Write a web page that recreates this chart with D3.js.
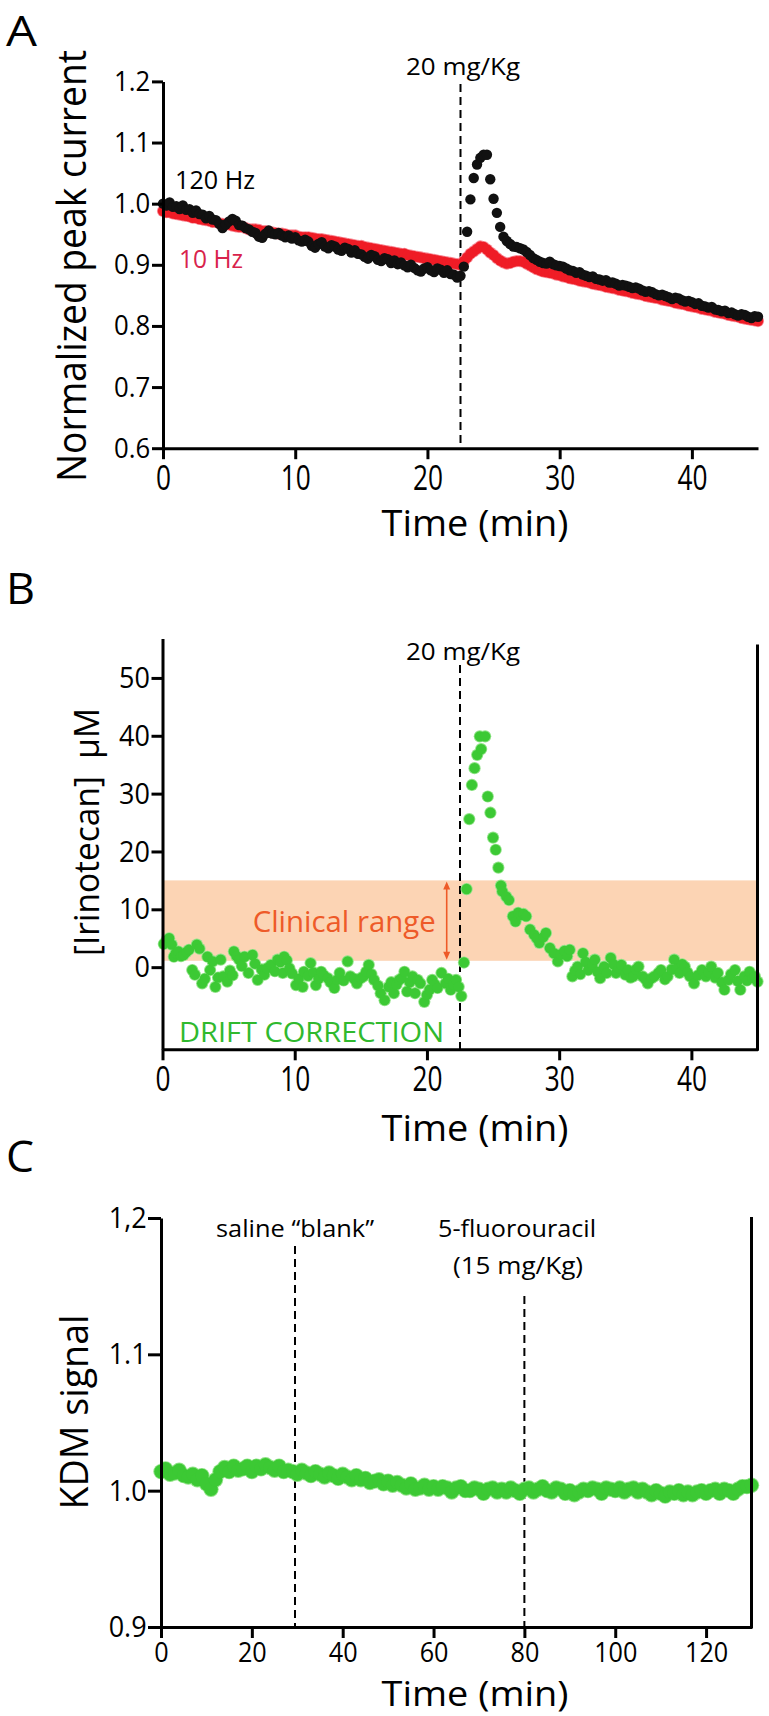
<!DOCTYPE html>
<html><head><meta charset="utf-8">
<script src="https://cdn.jsdelivr.net/npm/d3@7"></script>
<style>
html,body{margin:0;padding:0;background:#fff;}
svg{display:block;font-family:"Open Sans",sans-serif;}
</style></head>
<body><svg id="fig" width="769" height="1716"></svg>
<script>
// ---------- DATA ----------
// Panel A: normalized peak current, sampled every 0.25 min from 0 to 45 min
const stepA = 0.25;
const hz120 = [
1.000,0.997,1.002,0.995, 0.996,0.991,0.997,0.990, 0.991,0.985,0.989,0.983, 0.982,0.976,0.980,0.974,
0.973,0.967,0.960,0.966, 0.971,0.975,0.972,0.965, 0.964,0.960,0.958,0.954, 0.952,0.946,0.944,0.951,
0.956,0.951,0.950,0.952, 0.948,0.945,0.948,0.943, 0.945,0.940,0.938,0.941, 0.938,0.931,0.928,0.934,
0.937,0.930,0.927,0.932, 0.930,0.925,0.923,0.928, 0.926,0.920,0.924,0.918, 0.917,0.913,0.910,0.916,
0.914,0.908,0.906,0.911, 0.909,0.903,0.907,0.901, 0.904,0.899,0.896,0.900, 0.895,0.891,0.889,0.894,
0.896,0.891,0.888,0.894, 0.892,0.887,0.891,0.885, 0.884,0.879,0.882,0.897, 0.954,1.007,1.042,1.064,
1.075,1.080,1.080,1.040, 1.008,0.985,0.962,0.946, 0.939,0.934,0.930,0.929, 0.927,0.925,0.921,0.916,
0.911,0.908,0.905,0.903, 0.902,0.905,0.901,0.899, 0.898,0.897,0.894,0.891, 0.890,0.887,0.888,0.884,
0.882,0.880,0.881,0.877, 0.876,0.874,0.875,0.871, 0.871,0.869,0.866,0.867, 0.866,0.864,0.862,0.863,
0.861,0.858,0.856,0.857, 0.855,0.852,0.850,0.851, 0.849,0.847,0.844,0.846, 0.845,0.842,0.840,0.841,
0.839,0.836,0.837,0.833, 0.832,0.830,0.831,0.827, 0.826,0.824,0.825,0.821, 0.822,0.819,0.817,0.819,
0.818,0.815,0.813,0.816, 0.815];
const hz10 = [
0.988,0.986,0.986,0.984, 0.983,0.982,0.981,0.980, 0.979,0.977,0.977,0.975, 0.974,0.973,0.972,0.970,
0.970,0.968,0.967,0.966, 0.966,0.964,0.963,0.962, 0.962,0.960,0.958,0.958, 0.958,0.957,0.955,0.955,
0.954,0.953,0.952,0.951, 0.951,0.950,0.948,0.948, 0.948,0.946,0.945,0.945, 0.945,0.944,0.943,0.942,
0.942,0.941,0.940,0.939, 0.938,0.937,0.936,0.935, 0.934,0.933,0.932,0.931, 0.931,0.929,0.928,0.927,
0.926,0.925,0.924,0.923, 0.922,0.921,0.920,0.919, 0.918,0.918,0.916,0.915, 0.914,0.913,0.912,0.911,
0.910,0.909,0.908,0.907, 0.906,0.905,0.904,0.903, 0.902,0.901,0.900,0.906, 0.912,0.918,0.922,0.926,
0.930,0.929,0.925,0.920, 0.916,0.911,0.907,0.904, 0.902,0.903,0.905,0.906, 0.906,0.905,0.902,0.899,
0.896,0.893,0.891,0.889, 0.888,0.887,0.886,0.884, 0.883,0.881,0.880,0.878, 0.877,0.876,0.874,0.873,
0.872,0.871,0.869,0.868, 0.867,0.866,0.864,0.863, 0.862,0.861,0.859,0.858, 0.857,0.856,0.854,0.853,
0.852,0.851,0.849,0.848, 0.847,0.846,0.845,0.843, 0.842,0.841,0.840,0.838, 0.837,0.836,0.835,0.833,
0.832,0.831,0.830,0.828, 0.827,0.826,0.825,0.823, 0.822,0.821,0.820,0.818, 0.817,0.816,0.815,0.813,
0.812,0.811,0.810,0.809, 0.808];
const doseTime = 22.5;
const ticksAY = [0.6,0.7,0.8,0.9,1.0,1.1,1.2];
const ticksX45 = [0,10,20,30,40];

// Panel B: [time (min), irinotecan (µM)]
const irinotecan = [[0.1,4.0],[0.3,4.6],[0.5,5.0],[0.7,3.9],[0.86,1.8],[1.0,2.4],[1.2,2.7],[1.4,1.9],[1.6,2.1],[1.8,2.6],[2.0,3.0],[2.25,-0.5],[2.45,-1.3],[2.6,3.9],[2.8,3.2],[3.0,-2.8],[3.2,-2.0],[3.4,1.8],[3.6,-0.5],[3.8,1.0],[4.0,-3.4],[4.2,-1.8],[4.4,1.3],[4.6,-1.6],[4.9,-2.5],[5.1,-0.6],[5.3,-1.4],[5.4,2.7],[5.6,1.9],[5.8,1.3],[6.0,0.2],[6.2,1.8],[6.5,-1.0],[6.8,2.1],[7.0,0.6],[7.2,-2.2],[7.5,-0.4],[7.7,-1.3],[7.9,-0.2],[8.2,0.4],[8.5,-0.7],[8.7,1.3],[8.9,0.9],[9.1,-1.0],[9.2,1.8],[9.4,1.2],[9.6,-0.2],[9.8,-1.1],[10.1,-3.1],[10.3,-2.0],[10.6,-3.4],[10.7,-0.8],[11.0,-1.5],[11.2,0.7],[11.4,-0.9],[11.6,-3.1],[11.8,-2.0],[12.0,-0.8],[12.2,-1.4],[12.5,-1.9],[12.7,-2.6],[13.0,-3.6],[13.2,-2.2],[13.4,-1.0],[13.7,-2.3],[14.0,1.0],[14.2,-1.6],[14.5,-2.0],[14.7,-2.8],[15.0,-1.9],[15.2,-1.6],[15.4,-0.8],[15.6,0.4],[15.8,-1.2],[16.0,-2.2],[16.3,-3.2],[16.5,-4.5],[16.8,-5.7],[17.1,-3.4],[17.3,-2.6],[17.5,-4.5],[17.7,-3.0],[17.9,-2.2],[18.1,-1.9],[18.3,-0.8],[18.5,-4.2],[18.7,-2.6],[18.9,-1.6],[19.1,-4.5],[19.3,-2.2],[19.5,-2.8],[19.8,-6.0],[20.0,-4.8],[20.2,-3.9],[20.4,-2.2],[20.6,-3.0],[20.8,-3.6],[21.1,-1.0],[21.4,-2.8],[21.6,-2.0],[21.8,-3.9],[22.0,-3.0],[22.2,-2.2],[22.4,-3.4],[22.6,-5.0],[22.8,0.8],[23.0,13.5],[23.2,25.6],[23.4,31.5],[23.6,34.4],[23.8,36.7],[24.0,39.9],[24.1,37.7],[24.4,39.9],[24.6,29.5],[24.8,26.7],[25.0,22.4],[25.2,20.3],[25.4,17.2],[25.6,14.1],[25.7,13.1],[26.0,12.2],[26.2,11.6],[26.5,8.8],[26.7,7.9],[26.9,9.4],[27.1,9.0],[27.3,9.2],[27.5,8.8],[27.8,6.5],[28.1,5.6],[28.3,5.0],[28.5,4.2],[28.8,5.2],[29.0,5.9],[29.3,3.3],[29.6,2.4],[29.9,1.0],[30.1,2.2],[30.4,2.8],[30.6,1.9],[30.8,3.0],[31.0,-1.6],[31.2,-0.6],[31.4,0.1],[31.6,-1.2],[31.8,2.4],[32.0,0.9],[32.2,-0.5],[32.5,0.4],[32.7,1.3],[32.9,-0.8],[33.1,-1.9],[33.4,0.1],[33.6,-1.0],[33.9,1.6],[34.1,0.5],[34.3,-1.0],[34.5,-0.2],[34.7,0.4],[35.0,-1.3],[35.2,-0.5],[35.4,-1.8],[35.6,-1.6],[35.8,-0.4],[36.0,0.1],[36.3,-1.6],[36.5,-2.0],[36.7,-2.8],[37.0,-1.9],[37.2,-1.6],[37.5,-1.0],[37.7,-0.5],[38.0,-2.1],[38.2,-1.6],[38.5,-0.4],[38.7,1.3],[38.9,-0.2],[39.1,-1.0],[39.3,0.5],[39.5,0.1],[39.7,-0.9],[39.9,-1.6],[40.2,-2.8],[40.5,-1.4],[40.8,-0.5],[41.1,-1.6],[41.3,-0.9],[41.5,0.1],[41.8,-1.8],[42.0,-1.0],[42.3,-2.6],[42.5,-3.9],[42.8,-2.2],[43.0,-1.2],[43.3,-0.5],[43.5,-2.4],[43.7,-3.9],[44.0,-1.6],[44.2,-2.3],[44.4,-0.8],[44.6,-1.9],[44.8,-1.6],[45.0,-2.5]];
const clinicalRange = [1.1, 15];
const ticksBY = [0,10,20,30,40,50];

// Panel C: KDM signal every 1 min from 0 to 130 min
const stepC = 1;
const kdm = [
1.014,1.016,1.012,1.013,1.015,1.011,1.010,1.012,1.008,1.011,1.005,1.001,1.008,1.014,1.017,1.014,1.018,1.015,1.016,1.018,
1.014,1.018,1.016,1.019,1.017,1.015,1.018,1.014,1.015,1.014,1.012,1.015,1.013,1.011,1.014,1.012,1.010,1.013,1.011,1.009,
1.012,1.010,1.008,1.011,1.008,1.009,1.006,1.007,1.008,1.005,1.007,1.004,1.006,1.004,1.002,1.005,1.001,1.002,1.004,1.001,
1.003,1.001,1.003,1.002,0.999,1.002,1.003,1.000,1.000,1.002,1.001,0.998,1.001,1.002,0.999,1.001,0.999,1.002,1.000,0.998,
1.001,1.002,0.999,1.001,1.003,1.000,0.999,1.002,1.001,0.998,1.000,0.997,0.999,1.001,1.000,1.002,1.001,0.998,1.002,1.001,
1.000,1.002,0.999,1.001,1.002,0.999,1.001,0.999,0.997,1.000,0.998,0.996,0.999,0.998,1.000,0.997,0.999,0.997,0.999,1.000,
0.998,1.000,1.001,0.998,1.001,1.000,0.998,1.001,1.003,1.003,1.004];
const salineTime = 29.5, fuTime = 80;
const ticksCY = [0.9,1.0,1.1,1.2];
const ticksCX = [0,20,40,60,80,100,120];

// ---------- DRAWING ----------
const svg = d3.select("#fig");
svg.append("rect").attr("width",769).attr("height",1716).attr("fill","#fff");
const FONT = "'Open Sans', sans-serif";
const RED = "#ef1c26", REDEDGE = "#f78a96", REDTXT = "#d8234c";
const GREEN = "#3cc934", GREENEDGE = "#8fe386", GREENTXT = "#30b92e", ORANGE = "#ee5a28";

function styleAxis(g, fs, sx){
  g.select(".domain").attr("stroke","#000").attr("stroke-width",3);
  g.selectAll(".tick line").attr("stroke","#000").attr("stroke-width",3);
  g.selectAll(".tick text").attr("fill","#000").attr("font-size",fs).attr("font-family",FONT);
  if (sx) g.selectAll(".tick text").attr("transform",`scale(${sx},1)`);
}
function dashed(x, y1, y2){
  svg.append("line").attr("x1",x).attr("x2",x).attr("y1",y1).attr("y2",y2)
    .attr("stroke","#000").attr("stroke-width",2).attr("stroke-dasharray","8,5");
}
function label(txt, x, y, fs, opts={}){
  const t = svg.append("text").attr("x",x).attr("y",y).attr("font-size",fs)
    .attr("font-family",FONT).attr("fill",opts.fill||"#000")
    .attr("text-anchor",opts.anchor||"start").text(txt);
  if (opts.len) t.attr("textLength",opts.len).attr("lengthAdjust","spacingAndGlyphs");
  return t;
}
function vlabel(txt, x, y, fs, len){
  svg.append("text").attr("transform",`translate(${x},${y}) rotate(-90)`)
    .attr("text-anchor","middle").attr("font-size",fs).attr("font-family",FONT)
    .attr("textLength",len).attr("lengthAdjust","spacingAndGlyphs").text(txt);
}
// dots drawn in two passes: a soft outer rim, then the solid fill
function dots(data, cx, cy, r, fill, edge){
  const g = svg.append("g");
  if (edge) g.append("g").selectAll("circle").data(data).join("circle")
    .attr("cx",cx).attr("cy",cy).attr("r",r+0.9).attr("fill",edge);
  g.append("g").selectAll("circle").data(data).join("circle")
    .attr("cx",cx).attr("cy",cy).attr("r",r).attr("fill",fill);
}

// ===== Panel A =====
const xA = d3.scaleLinear().domain([0,45]).range([163,758]);
const yA = d3.scaleLinear().domain([0.6,1.2]).range([448.2,81.4]);
label("A", 6, 46, 42, {len:31});
dashed(xA(doseTime), 84, yA(0.6));
dots(hz10, (d,i)=>xA(i*stepA), d=>yA(d), 5.2, RED, REDEDGE);
dots(hz120, (d,i)=>xA(i*stepA), d=>yA(d), 5.2, "#111", null);
const gAx = svg.append("g").attr("transform",`translate(0,${yA(0.6)})`)
  .call(d3.axisBottom(xA).tickValues(ticksX45).tickSize(11).tickSizeOuter(0).tickPadding(6).tickFormat(d3.format("d")));
styleAxis(gAx, 35, 0.75);
const gAy = svg.append("g").attr("transform",`translate(${xA(0)},0)`)
  .call(d3.axisLeft(yA).tickValues(ticksAY).tickSize(11).tickSizeOuter(0).tickPadding(3).tickFormat(d3.format(".1f")));
styleAxis(gAy, 28, 0.92);
label("20 mg/Kg", 406, 75, 24, {len:114});
label("120 Hz", 175, 189, 25, {len:80});
label("10 Hz", 179, 268, 25, {len:64, fill:REDTXT});
vlabel("Normalized peak current", 86, 266, 40, 432);
label("Time (min)", 475, 536, 37, {anchor:"middle", len:187});

// ===== Panel B =====
const xB = d3.scaleLinear().domain([0,45]).range([162.5,757.5]);
const yB = d3.scaleLinear().domain([-14.2,56.8]).range([1049.3,638.6]);
label("B", 6, 604, 43, {len:29});
svg.append("rect").attr("x",xB(0)).attr("width",xB(45)-xB(0))
  .attr("y",yB(clinicalRange[1])).attr("height",yB(clinicalRange[0])-yB(clinicalRange[1]))
  .attr("fill","#fcd4b4");
// double-headed arrow marking the clinical range
const ax = 446.7, ay1 = yB(clinicalRange[1])+1, ay2 = yB(clinicalRange[0])-1;
svg.append("line").attr("x1",ax).attr("x2",ax).attr("y1",ay1+5).attr("y2",ay2-5).attr("stroke",ORANGE).attr("stroke-width",1.6);
svg.append("path").attr("d",`M${ax},${ay1} l-3.5,8 l7,0 Z M${ax},${ay2} l-3.5,-8 l7,0 Z`).attr("fill",ORANGE);
label("Clinical range", 252.7, 931.7, 30, {len:183, fill:ORANGE});
label("DRIFT CORRECTION", 179, 1041.7, 28, {len:265, fill:GREENTXT});
dashed(xB(doseTime), 665, yB(-14.2));
dots(irinotecan, d=>xB(d[0]), d=>yB(d[1]), 5.2, GREEN, GREENEDGE);
const gBx = svg.append("g").attr("transform",`translate(0,${yB(-14.2)})`)
  .call(d3.axisBottom(xB).tickValues(ticksX45).tickSize(11).tickSizeOuter(0).tickPadding(6).tickFormat(d3.format("d")));
styleAxis(gBx, 35, 0.75);
const gBy = svg.append("g").attr("transform",`translate(${xB(0)},0)`)
  .call(d3.axisLeft(yB).tickValues(ticksBY).tickSize(11).tickSizeOuter(0).tickPadding(3).tickFormat(d3.format("d")));
styleAxis(gBy, 30, 0.9);
svg.append("line").attr("x1",xB(45)).attr("x2",xB(45)).attr("y1",644.6).attr("y2",yB(-14.2)+1.5)
  .attr("stroke","#000").attr("stroke-width",3);
label("20 mg/Kg", 406, 660, 24, {len:114});
vlabel("[Irinotecan]\u00A0\u00A0\u00B5M", 99, 832, 34, 248);
label("Time (min)", 475, 1141, 37, {anchor:"middle", len:187});

// ===== Panel C =====
const xC = d3.scaleLinear().domain([0,130]).range([161,751.5]);
const yC = d3.scaleLinear().domain([0.9,1.2]).range([1627,1218]);
label("C", 6, 1172, 43, {len:28});
dashed(xC(salineTime), 1246, yC(0.9));
dashed(xC(fuTime), 1296, yC(0.9));
dots(kdm, (d,i)=>xC(i*stepC), d=>yC(d), 6.8, GREEN, GREENEDGE);
const gCx = svg.append("g").attr("transform",`translate(0,${yC(0.9)})`)
  .call(d3.axisBottom(xC).tickValues(ticksCX).tickSize(11).tickSizeOuter(0).tickPadding(4).tickFormat(d3.format("d")));
styleAxis(gCx, 28, 0.9);
const gCy = svg.append("g").attr("transform",`translate(${xC(0)},0)`)
  .call(d3.axisLeft(yC).tickValues(ticksCY).tickSize(13).tickSizeOuter(0).tickPadding(3)
    .tickFormat(d => d === 1.2 ? "1,2" : d3.format(".1f")(d)));
styleAxis(gCy, 30, 0.9);
svg.append("line").attr("x1",xC(130)).attr("x2",xC(130)).attr("y1",1217).attr("y2",yC(0.9)+1.5)
  .attr("stroke","#000").attr("stroke-width",3);
label("saline \u201Cblank\u201D", 295, 1237, 24, {anchor:"middle", len:158});
label("5-fluorouracil", 517, 1237, 24, {anchor:"middle", len:158});
label("(15 mg/Kg)", 518, 1274, 24, {anchor:"middle", len:130});
vlabel("KDM signal", 88, 1412, 38, 195);
label("Time (min)", 475, 1706, 34, {anchor:"middle", len:187});
</script></body></html>
